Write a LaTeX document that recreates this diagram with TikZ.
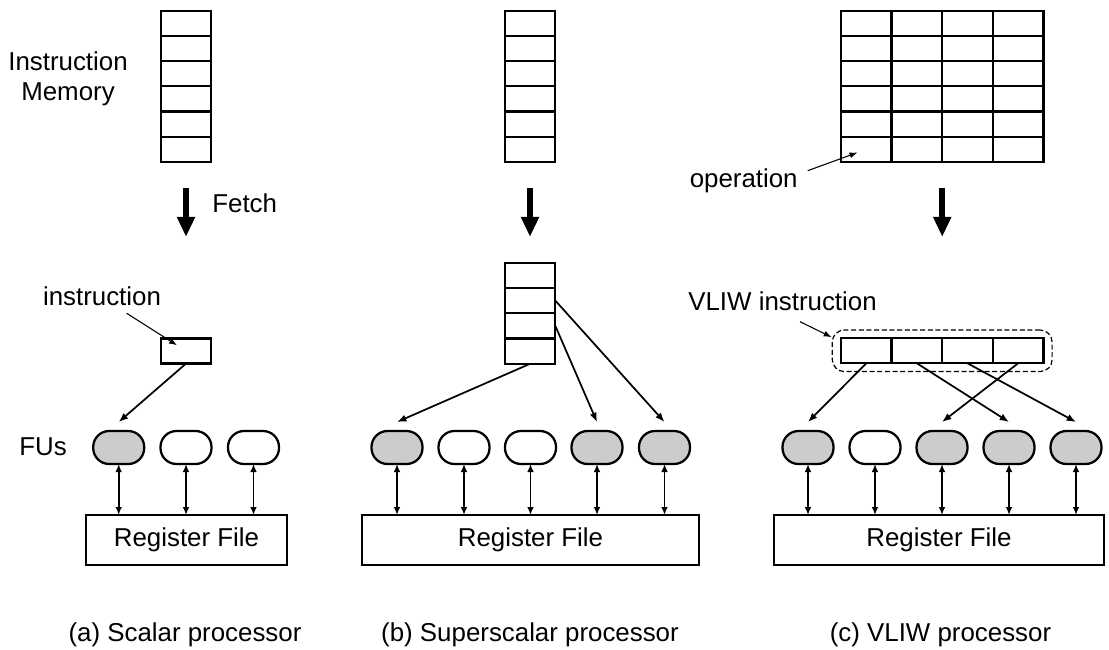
\documentclass[tikz,border=0pt]{standalone}
\usepackage{fontspec}
\setmainfont{Liberation Sans}
\usetikzlibrary{arrows.meta,calc,fit}

\tikzset{
  cell/.style={draw, line width=1.7pt, minimum width=38pt, minimum height=18.9pt, inner sep=0pt, outer sep=0pt},
  fu/.style={draw, line width=1.7pt, rounded corners=12pt, minimum width=38.25pt, minimum height=24.75pt, inner sep=0pt, outer sep=0pt},
  busy/.style={fu, fill=black!20},
  regfile/.style={draw, line width=1.7pt, minimum height=37.5pt, inner sep=0pt, outer sep=0pt},
  fetch/.style={line width=4.5pt, -{Triangle[length=15pt,width=12.75pt]}},
  issue/.style={line width=1.3pt, -{Latex[length=7pt,width=5.5pt]}},
  rw/.style={line width=1.3pt, {Latex[length=6pt,width=5pt]}-{Latex[length=6pt,width=5pt]}},
  pointer/.style={line width=0.8pt, -{Latex[length=6pt,width=4.5pt]}},
}

\begin{document}
\begin{tikzpicture}[x=0.75pt,y=0.75pt,yscale=-1,xscale=1, font=\fontsize{19.4}{22.5}\selectfont]
\useasboundingbox (0,0) rectangle (1109,649);

%%%%%%%%%% (a) scalar %%%%%%%%%%
%Shape: Instruction memory
\foreach \r/\y in {1/23.3,2/48.5,3/73.7,4/98.9,5/124.1,6/149.3}
  \node[cell] (am\r) at (186,\y) {};
%Shape: instruction
\node[cell] (ains) at (186,351) {};
%Shape: FUs
\node[busy] (afu1) at (118.7,447.5) {};
\node[fu] (afu2) at (186,447.5) {};
\node[fu] (afu3) at (253.5,447.5) {};
%Shape: Register file
\node[regfile, minimum width=150.75pt] (arf) at (186.5,540) {Register File};

%Straight Lines
\draw[fetch] (am6.south) ++(0,26) -- ++(0,49);
\draw[issue] (ains.south) -- ($(afu1.north)+(0,-9)$);
\foreach \i in {1,2,3}
  \draw[rw] (afu\i.south) -- (afu\i.south |- arf.north);

% Text Node
\node[align=center] (lblmem) at (68,78.5) {Instruction\\Memory};
\node[anchor=base] (lblfetch) at (244.7,212.7) {Fetch};
\node[anchor=base] (lblins) at (102,305) {instruction};
\node[anchor=base] (lblfu) at (43,455) {FUs};
\coordinate (itail) at (126.7,313.3);
\draw[pointer, shorten >=8pt] (itail) -- (ains.center);
\node[anchor=base] (capa) at (185,641) {(a) Scalar processor};

%%%%%%%%%% (b) superscalar %%%%%%%%%%
%Shape: Instruction memory
\foreach \r/\y in {1/23.3,2/48.5,3/73.7,4/98.9,5/124.1,6/149.3}
  \node[cell] (bm\r) at (530,\y) {};
%Shape: instruction window
\foreach \r/\y in {1/275.3,2/300.6,3/325.9,4/351.2}
  \node[cell] (bw\r) at (530,\y) {};
%Shape: FUs
\node[busy] (bfu1) at (397,447.5) {};
\node[fu] (bfu2) at (464,447.5) {};
\node[fu] (bfu3) at (530.5,447.5) {};
\node[busy] (bfu4) at (597,447.5) {};
\node[busy] (bfu5) at (664.5,447.5) {};
%Shape: Register file
\node[regfile, minimum width=252.75pt] (brf) at (530.5,540) {Register File};

%Straight Lines
\draw[fetch] (bm6.south) ++(0,26) -- ++(0,49);
\draw[issue] (bw4.south) -- ($(bfu1.north)+(0,-9)$);
\draw[issue] (bw3.east) -- ($(bfu4.north)+(0,-9)$);
\draw[issue] (bw2.east) -- ($(bfu5.north)+(0,-9)$);
\foreach \i in {1,...,5}
  \draw[rw] (bfu\i.south) -- (bfu\i.south |- brf.north);

% Text Node
\node[anchor=base] (capb) at (530,641) {(b) Superscalar processor};

%%%%%%%%%% (c) VLIW %%%%%%%%%%
%Shape: Instruction memory
\foreach \r/\y in {1/23.3,2/48.5,3/73.7,4/98.9,5/124.1,6/149.3}
  \foreach \c/\x in {1/866.3,2/916.9,3/967.5,4/1018.1}
    \node[cell] (cm\r-\c) at (\x,\y) {};
%Shape: VLIW instruction
\foreach \c/\x in {1/866.3,2/916.9,3/967.5,4/1018.1}
  \node[cell, minimum height=18.75pt] (ci\c) at (\x,350.8) {};
\node[draw, dash pattern=on 3.75pt off 2pt, line width=0.9pt, rounded corners=9pt,
      inner xsep=6.5pt, inner ysep=6.2pt, fit=(ci1)(ci4)] (cbox) {};
%Shape: FUs
\node[busy] (cfu1) at (808,447.5) {};
\node[fu] (cfu2) at (875,447.5) {};
\node[busy] (cfu3) at (942,447.5) {};
\node[busy] (cfu4) at (1009,447.5) {};
\node[busy] (cfu5) at (1076,447.5) {};
%Shape: Register file
\node[regfile, minimum width=247.5pt] (crf) at (939,540) {Register File};

%Straight Lines
\draw[fetch] (cm6-2.south east) ++(0,26) -- ++(0,49);
\draw[issue] (ci1.south) -- ($(cfu1.north)+(0,-9)$);
\draw[issue] (ci2.south) -- ($(cfu4.north)+(0,-9)$);
\draw[issue] (ci3.south) -- ($(cfu5.north)+(0,-9)$);
\draw[issue] (ci4.south) -- ($(cfu3.north)+(0,-9)$);
\foreach \i in {1,...,5}
  \draw[rw] (cfu\i.south) -- (cfu\i.south |- crf.north);

% Text Node
\node[anchor=base] (lblop) at (743.7,187) {operation};
\coordinate (otail) at (807.7,170.7);
\draw[pointer, shorten >=7pt] (otail) -- (cm6-1.center);
\node[anchor=base] (lblvliw) at (782.5,310) {VLIW instruction};
\coordinate (vtail) at (800,321.7);
\draw[pointer] (vtail) -- (cbox.173);
\node[anchor=base] (capc) at (940.5,641) {(c) VLIW processor};

\end{tikzpicture}
\end{document}
